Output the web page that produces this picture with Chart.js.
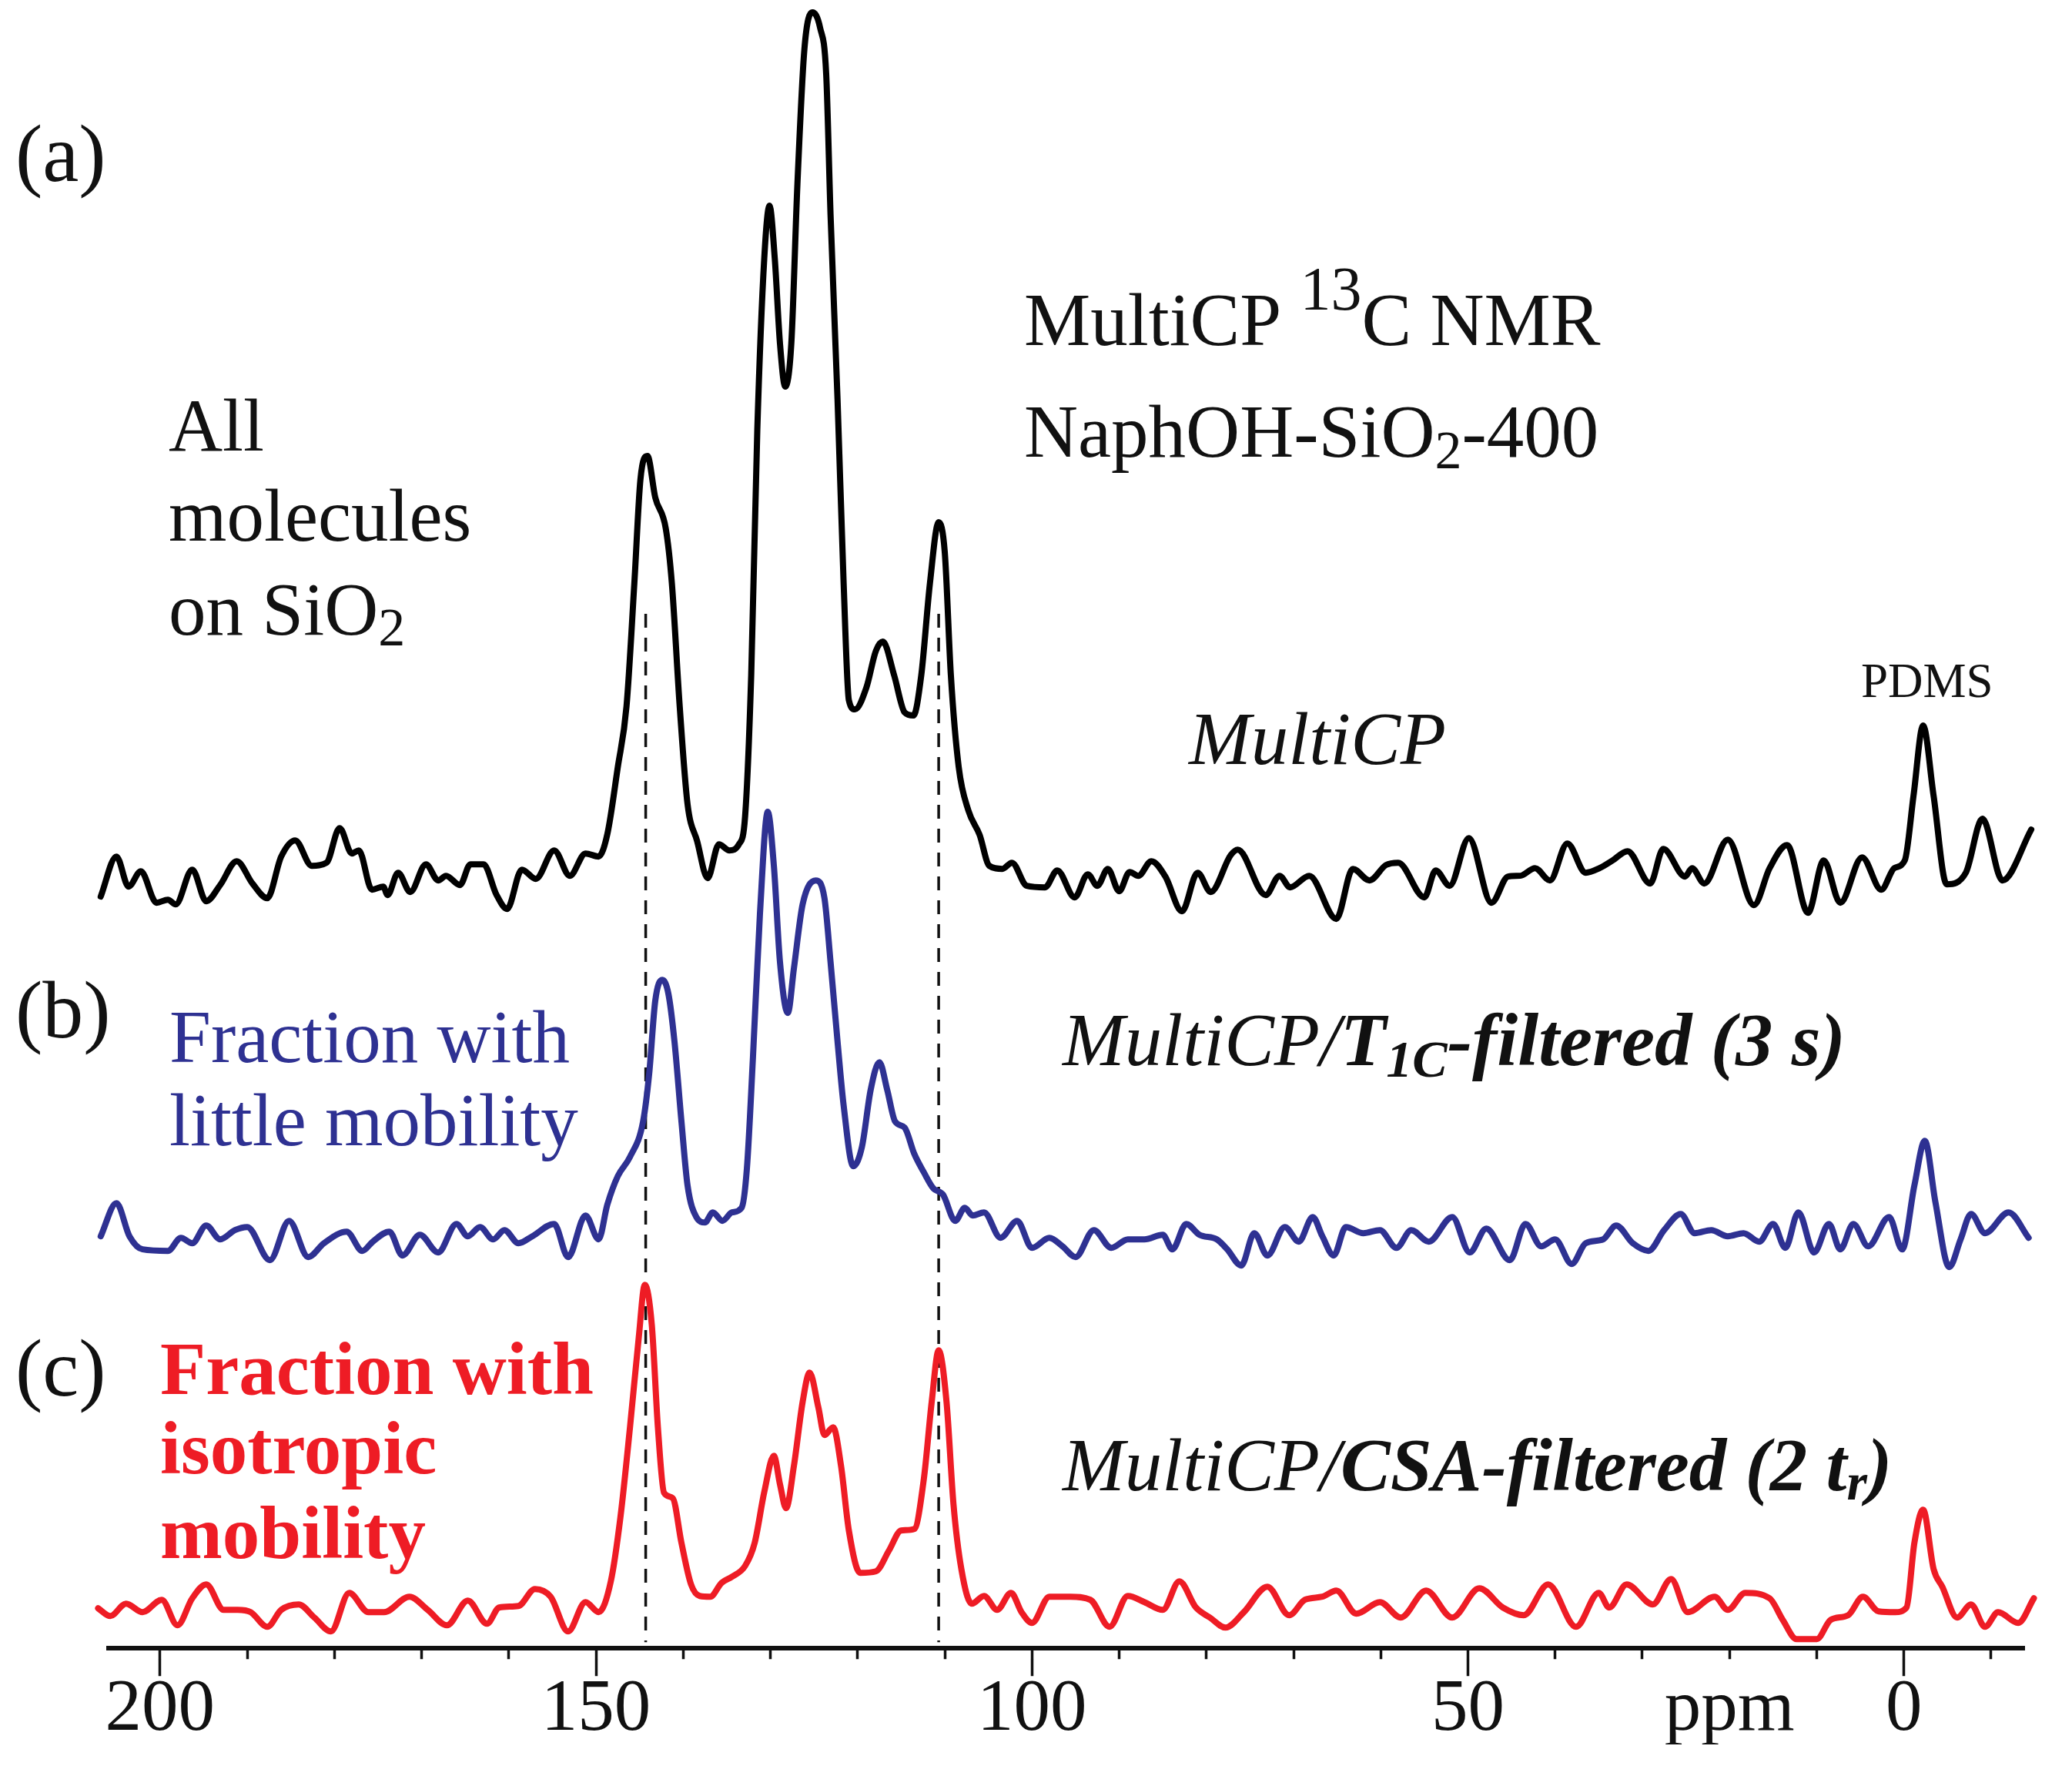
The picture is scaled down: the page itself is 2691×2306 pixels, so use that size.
<!DOCTYPE html>
<html>
<head>
<meta charset="utf-8">
<title>MultiCP 13C NMR</title>
<script src="https://cdn.jsdelivr.net/npm/chart.js@4.4.1/dist/chart.umd.min.js"></script>
<style>
  html, body { margin: 0; padding: 0; background: #fff; }
  canvas { display: block; }
</style>
</head>
<body>
<canvas id="spectre" width="2691" height="2306"></canvas>
<script>
// chemical shift axis
const majorTicks = [200, 150, 100, 50, 20, 0]; // 20 carries the "ppm" unit label
const minorTicks = [200, 190, 180, 170, 160, 150, 140, 130, 120, 110, 100, 90, 80, 70, 60, 50, 40, 30, 20, 10, 0, -10];

// (a) MultiCP
const ppmA = [206.8, 205.0, 203.6, 202.2, 200.4, 199.1, 198.2, 196.3, 194.7, 193.1, 191.2, 189.4, 187.7, 186.1, 184.5, 182.6, 180.9, 179.4, 178.0, 177.2, 175.7, 174.4, 173.9, 172.7, 171.3, 169.5, 168.1, 167.2, 165.6, 164.4, 162.9, 161.4, 160.2, 158.5, 156.9, 154.8, 153.0, 151.2, 149.7, 148.7, 147.5, 146.5, 145.6, 144.9, 144.1, 143.2, 142.0, 141.3, 140.4, 139.5, 138.4, 137.2, 135.9, 134.7, 133.6, 132.9, 132.2, 131.5, 130.7, 130.1, 129.5, 128.9, 128.3, 127.6, 126.9, 126.1, 125.2, 124.3, 123.6, 123.1, 122.3, 121.6, 121.0, 120.3, 119.0, 117.9, 117.1, 115.8, 114.6, 113.6, 112.7, 111.7, 110.7, 110.0, 109.3, 108.4, 107.3, 106.0, 104.9, 103.4, 102.3, 100.6, 98.5, 97.1, 95.1, 93.6, 92.5, 91.3, 90.0, 88.8, 87.8, 86.3, 84.7, 82.8, 81.0, 79.5, 77.2, 76.4, 73.2, 71.6, 70.4, 68.2, 65.1, 63.2, 61.3, 59.4, 58.0, 55.0, 53.7, 52.1, 49.9, 47.3, 45.4, 44.0, 42.3, 40.6, 38.6, 36.5, 34.9, 33.4, 31.7, 29.1, 27.6, 25.1, 24.3, 22.9, 20.2, 17.2, 15.4, 13.4, 11.0, 9.2, 7.3, 4.8, 2.6, 1.1, -0.1, -1.1, -2.2, -3.4, -4.9, -7.1, -9.0, -11.3, -14.6];
const intA = [-19, 33, -6, 14, -27, -23, -29, 16, -25, -4, 27, -2, -21, 33, 54, 21, 25, 70, 37, 41, -10, -6, -17, 12, -13, 23, 2, 8, -4, 23, 23, -17, -35, 16, 4, 41, 8, 37, 33, 62, 149, 228, 388, 523, 553, 499, 459, 388, 228, 101, 53, 5, 49, 41, 49, 85, 268, 587, 810, 878, 810, 699, 643, 699, 906, 1081, 1129, 1109, 1049, 866, 627, 388, 236, 224, 252, 300, 312, 268, 220, 216, 268, 388, 467, 428, 268, 149, 93, 61, 21, 17, 25, -5, -7, 15, -20, 10, -5, 17, -12, 13, 8, 27, 7, -38, 12, -13, 35, 42, -17, 8, -7, 8, -48, 17, 2, 22, 25, -20, 15, -5, 57, -27, 7, 8, 18, 2, 50, 12, 18, 28, 40, -2, 43, 7, 18, -2, 55, -30, 18, 48, -40, 28, -27, 32, -10, 18, 28, 112, 203, 112, -3, 12, 82, 2, 68];

// (b) MultiCP/T1C-filtered (3 s)
const ppmB = [206.8, 205.0, 203.5, 202.0, 199.1, 197.6, 196.3, 194.7, 193.1, 191.4, 190.0, 187.4, 185.2, 183.0, 181.2, 178.6, 176.8, 175.6, 173.7, 172.2, 170.2, 168.1, 166.0, 164.7, 163.3, 161.8, 160.5, 158.9, 157.3, 154.8, 153.2, 151.2, 149.7, 148.7, 147.5, 146.1, 144.6, 143.9, 143.2, 142.4, 141.7, 141.0, 140.2, 139.5, 138.5, 137.5, 136.6, 135.5, 134.4, 133.3, 132.7, 132.0, 131.2, 130.3, 129.6, 128.9, 128.0, 127.3, 126.3, 124.8, 123.8, 123.1, 122.3, 121.6, 120.5, 119.5, 118.5, 117.5, 116.6, 115.7, 114.6, 113.5, 112.4, 111.3, 110.2, 108.8, 107.7, 106.8, 105.5, 103.6, 101.7, 100.0, 98.0, 96.5, 95.0, 92.9, 90.9, 89.0, 87.1, 85.0, 83.9, 82.3, 80.8, 78.8, 77.6, 76.0, 74.5, 73.0, 71.0, 69.4, 67.8, 66.7, 65.4, 64.0, 62.0, 60.1, 58.2, 56.5, 54.5, 51.8, 49.8, 47.9, 45.2, 43.4, 41.6, 40.0, 38.1, 36.5, 34.5, 33.0, 31.1, 29.3, 27.5, 25.6, 24.0, 22.1, 20.2, 18.4, 16.6, 15.0, 13.6, 12.1, 10.3, 8.6, 7.3, 5.8, 4.1, 1.7, 0.2, -1.2, -2.4, -3.6, -5.2, -6.5, -7.7, -9.3, -12.0, -14.3];
const intB = [2, 45, 2, -15, -17, 0, -7, 16, -2, 10, 14, -29, 22, -25, -7, 8, -17, -5, 8, -23, 4, -19, 18, 2, 14, -2, 10, -7, 2, 18, -25, 29, -2, 43, 80, 105, 151, 213, 308, 335, 317, 255, 151, 68, 27, 20, 33, 22, 33, 39, 89, 234, 420, 553, 483, 358, 292, 350, 433, 464, 441, 358, 255, 172, 93, 118, 192, 228, 192, 151, 143, 109, 85, 64, 56, 22, 39, 29, 33, 0, 22, -13, 0, -11, -25, 10, -13, -2, -2, 4, -15, 18, 4, -2, -15, -36, 6, -23, 14, -5, 27, 2, -23, 14, 6, 10, -13, 10, -5, 27, -19, 12, -29, 18, -11, -2, -34, -7, -2, 16, -7, -17, 10, 31, 6, 10, 2, 6, -5, 18, -13, 33, -19, 18, -15, 18, -11, 27, -15, 68, 126, 47, -38, -2, 31, 6, 33, 0];

// (c) MultiCP/CSA-filtered (2 tr)
const ppmC = [207.1, 205.7, 203.9, 202.0, 199.8, 198.0, 196.3, 194.7, 192.7, 191.1, 189.6, 187.7, 186.1, 184.1, 182.3, 180.4, 178.3, 176.1, 174.3, 171.4, 169.3, 167.1, 164.7, 162.5, 161.1, 158.9, 157.0, 155.2, 153.2, 151.2, 149.7, 148.3, 147.2, 146.1, 145.1, 144.4, 143.6, 142.9, 142.2, 141.2, 140.2, 139.1, 138.1, 136.9, 135.6, 134.4, 132.9, 131.8, 130.7, 129.6, 128.9, 128.2, 127.3, 126.3, 125.5, 124.5, 123.8, 122.8, 121.9, 121.0, 119.7, 117.9, 116.4, 115.0, 113.5, 112.4, 111.5, 110.7, 109.8, 109.0, 108.1, 106.9, 105.5, 104.0, 102.4, 101.2, 100.0, 98.0, 95.6, 93.3, 91.1, 89.0, 87.1, 85.0, 83.1, 81.2, 79.6, 77.8, 75.7, 73.0, 70.5, 68.7, 66.7, 65.1, 62.8, 60.1, 57.7, 54.8, 51.8, 48.7, 46.0, 43.6, 40.8, 37.6, 35.0, 33.8, 31.8, 28.8, 26.7, 24.8, 21.7, 20.2, 18.2, 15.4, 13.9, 12.3, 10.0, 8.4, 6.4, 4.7, 2.9, 1.0, -0.3, -1.2, -2.2, -3.4, -4.4, -6.1, -7.7, -9.3, -10.8, -13.1, -14.9];
const intC = [2, -8, 8, -3, 13, -20, 15, 33, 0, 0, -3, -22, 0, 7, -10, -28, 22, -3, -3, 17, 0, -20, 12, -18, 3, 5, 27, 17, -28, 10, -3, 37, 120, 237, 353, 422, 370, 237, 152, 145, 87, 33, 18, 17, 35, 43, 57, 87, 153, 200, 163, 132, 187, 270, 308, 263, 227, 237, 187, 103, 48, 50, 77, 103, 105, 170, 270, 337, 270, 137, 53, 8, 18, 0, 22, -3, -17, 17, 17, 13, -22, 18, 10, 0, 37, 3, -10, -23, -3, 30, -7, 13, 17, 25, -5, 10, -10, 25, -10, 28, 3, -7, 33, -22, 22, 3, 33, 7, 40, -3, 17, 0, 22, 15, -13, -38, -38, -13, -7, 17, -2, -3, 3, 87, 130, 53, 30, -10, 7, -22, -3, -17, 15];

// vertical stacking of the three spectra (same intensity units)
const offsetA = 995;
const offsetB = 533;
const offsetC = 50;

// dashed guide lines
const dashPpm = [144.3, 110.7];
const dashTop = 1343;
const dashBottom = 8;

const SERIF = '"Liberation Serif", "Times New Roman", serif';
const BLACK = '#111111';
const BLUE = '#2e3192';
const RED = '#ee1c25';

function points(ppm, vals, offset) {
  return ppm.map((p, i) => ({ x: p, y: vals[i] + offset }));
}

function traceSet(label, ppm, vals, offset, color) {
  return {
    label: label,
    data: points(ppm, vals, offset),
    borderColor: color,
    borderWidth: 8,
    pointRadius: 0,
    cubicInterpolationMode: "monotone",
    borderJoinStyle: "round",
    borderCapStyle: "round",
    clip: false,
    order: 1,
  };
}

const dashSets = dashPpm.map((p) => ({
  label: "guide " + p,
  data: [{ x: p, y: dashTop }, { x: p, y: dashBottom }],
  borderColor: BLACK,
  borderWidth: 3.5,
  borderDash: [18, 13],
  pointRadius: 0,
  order: 5,
}));

// text with sub/superscripts drawn as runs
function runs(ctx, x, y, parts) {
  for (const r of parts) {
    ctx.font = r.font;
    ctx.fillStyle = r.color || BLACK;
    ctx.fillText(r.t, x, y + (r.dy || 0));
    x += ctx.measureText(r.t).width;
  }
}

const f = (size, style) => (style ? style + " " : "") + size + "px " + SERIF;

const labelsPlugin = {
  id: "labels",
  afterDraw(chart) {
    const ctx = chart.ctx;
    ctx.save();
    ctx.textBaseline = "alphabetic";
    ctx.textAlign = "left";

    // panel letters
    runs(ctx, 20, 235, [{ t: "(a)", font: f(106) }]);
    runs(ctx, 20, 1347, [{ t: "(b)", font: f(106) }]);
    runs(ctx, 20, 1812, [{ t: "(c)", font: f(106) }]);

    // (a)
    runs(ctx, 219, 585, [{ t: "All", font: f(97) }]);
    runs(ctx, 219, 702, [{ t: "molecules", font: f(97) }]);
    runs(ctx, 219, 824, [{ t: "on SiO", font: f(97) }, { t: "2", font: f(70), dy: 14 }]);
    runs(ctx, 1330, 448, [
      { t: "MultiCP ", font: f(97) },
      { t: "13", font: f(80), dy: -46 },
      { t: "C NMR", font: f(97) },
    ]);
    runs(ctx, 1330, 593, [
      { t: "NaphOH-SiO", font: f(97) },
      { t: "2", font: f(70), dy: 15 },
      { t: "-400", font: f(97) },
    ]);
    runs(ctx, 1544, 992, [{ t: "MultiCP", font: f(97, "italic") }]);
    runs(ctx, 2417, 905, [{ t: "PDMS", font: f(63) }]);

    // (b)
    runs(ctx, 220, 1379, [{ t: "Fraction with", font: f(97), color: BLUE }]);
    runs(ctx, 220, 1487, [{ t: "little mobility", font: f(97), color: BLUE }]);
    runs(ctx, 1380, 1383, [
      { t: "MultiCP/", font: f(97, "italic") },
      { t: "T", font: f(97, "italic bold") },
      { t: "1C", font: f(68, "italic bold"), dy: 15 },
      { t: "-filtered (3 s)", font: f(97, "italic bold") },
    ]);

    // (c)
    runs(ctx, 208, 1810, [{ t: "Fraction with", font: f(97, "bold"), color: RED }]);
    runs(ctx, 208, 1913, [{ t: "isotropic", font: f(97, "bold"), color: RED }]);
    runs(ctx, 208, 2023, [{ t: "mobility", font: f(97, "bold"), color: RED }]);
    runs(ctx, 1380, 1935, [
      { t: "MultiCP/", font: f(97, "italic") },
      { t: "CSA-filtered (2 t", font: f(97, "italic bold") },
      { t: "r", font: f(68, "italic bold"), dy: 12 },
      { t: ")", font: f(97, "italic bold") },
    ]);
    ctx.restore();
  },
};

const xMin = -13.8;
const xMax = 205.9;

new Chart(document.getElementById("spectre"), {
  type: "line",
  data: {
    datasets: [
      traceSet("MultiCP", ppmA, intA, offsetA, "#000000"),
      traceSet("MultiCP/T1C-filtered (3 s)", ppmB, intB, offsetB, BLUE),
      traceSet("MultiCP/CSA-filtered (2 tr)", ppmC, intC, offsetC, RED),
      ...dashSets,
    ],
  },
  options: {
    responsive: false,
    animation: false,
    layout: { padding: { left: 141, right: 62, top: 0, bottom: 41 } },
    plugins: {
      legend: { display: false },
      tooltip: { enabled: false },
    },
    scales: {
      x: {
        type: "linear",
        reverse: true,
        min: xMin,
        max: xMax,
        position: "bottom",
        weight: 0,
        afterBuildTicks: (s) => {
          s.ticks = minorTicks.map((v) => ({ value: v }));
        },
        grid: {
          drawOnChartArea: false,
          drawTicks: true,
          tickLength: 14,
          tickWidth: 3.5,
          tickColor: BLACK,
        },
        border: { display: true, width: 6, color: BLACK },
        ticks: { display: false, autoSkip: false },
      },
      xMajor: {
        type: "linear",
        reverse: true,
        min: xMin,
        max: xMax,
        position: "bottom",
        weight: 1,
        afterBuildTicks: (s) => {
          s.ticks = majorTicks.map((v) => ({ value: v }));
        },
        grid: {
          drawOnChartArea: false,
          drawTicks: true,
          tickLength: 22,
          tickWidth: 3.5,
          tickColor: (c) => (c.tick && c.tick.value === 20 ? "rgba(0,0,0,0)" : BLACK),
        },
        border: { display: false },
        ticks: {
          autoSkip: false,
          maxRotation: 0,
          padding: 4,
          color: BLACK,
          font: { family: SERIF, size: 95, lineHeight: 0.85 },
          callback: (v) => (v === 20 ? "ppm" : String(v)),
        },
      },
      y: { display: false, min: 0, max: 2140 },
    },
  },
  plugins: [labelsPlugin],
});
</script>
</body>
</html>
